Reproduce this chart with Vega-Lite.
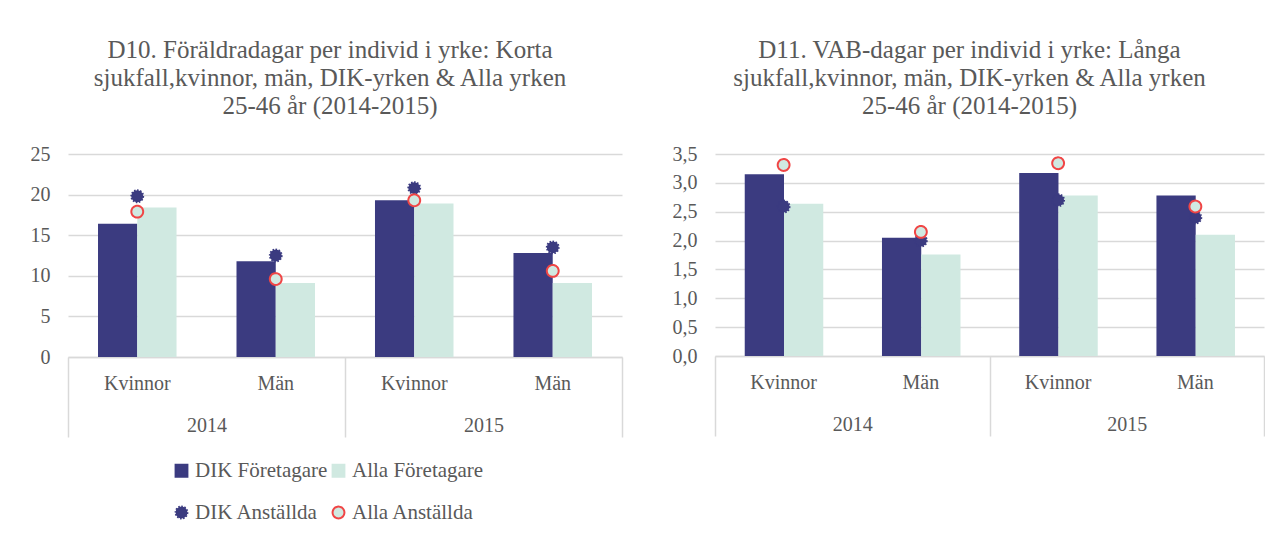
{
  "$schema": "https://vega.github.io/schema/vega-lite/v6.json",
  "background": "white",
  "padding": {"left": 30, "top": 38, "right": 0, "bottom": 0},
  "spacing": 93,
  "bounds": "flush",
  "datasets": {
    "d10": [
      {"year": "2014", "sex": "Kvinnor", "grp": "2014 Kvinnor", "series": "DIK Företagare", "value": 16.4},
      {"year": "2014", "sex": "Kvinnor", "grp": "2014 Kvinnor", "series": "Alla Företagare", "value": 18.4},
      {"year": "2014", "sex": "Kvinnor", "grp": "2014 Kvinnor", "series": "DIK Anställda", "value": 19.8},
      {"year": "2014", "sex": "Kvinnor", "grp": "2014 Kvinnor", "series": "Alla Anställda", "value": 17.9},
      {"year": "2014", "sex": "Män", "grp": "2014 Män", "series": "DIK Företagare", "value": 11.8},
      {"year": "2014", "sex": "Män", "grp": "2014 Män", "series": "Alla Företagare", "value": 9.1},
      {"year": "2014", "sex": "Män", "grp": "2014 Män", "series": "DIK Anställda", "value": 12.5},
      {"year": "2014", "sex": "Män", "grp": "2014 Män", "series": "Alla Anställda", "value": 9.6},
      {"year": "2015", "sex": "Kvinnor", "grp": "2015 Kvinnor", "series": "DIK Företagare", "value": 19.3},
      {"year": "2015", "sex": "Kvinnor", "grp": "2015 Kvinnor", "series": "Alla Företagare", "value": 18.9},
      {"year": "2015", "sex": "Kvinnor", "grp": "2015 Kvinnor", "series": "DIK Anställda", "value": 20.8},
      {"year": "2015", "sex": "Kvinnor", "grp": "2015 Kvinnor", "series": "Alla Anställda", "value": 19.3},
      {"year": "2015", "sex": "Män", "grp": "2015 Män", "series": "DIK Företagare", "value": 12.8},
      {"year": "2015", "sex": "Män", "grp": "2015 Män", "series": "Alla Företagare", "value": 9.1},
      {"year": "2015", "sex": "Män", "grp": "2015 Män", "series": "DIK Anställda", "value": 13.5},
      {"year": "2015", "sex": "Män", "grp": "2015 Män", "series": "Alla Anställda", "value": 10.6}
    ],
    "d11": [
      {"year": "2014", "sex": "Kvinnor", "grp": "2014 Kvinnor", "series": "DIK Företagare", "value": 3.15},
      {"year": "2014", "sex": "Kvinnor", "grp": "2014 Kvinnor", "series": "Alla Företagare", "value": 2.64},
      {"year": "2014", "sex": "Kvinnor", "grp": "2014 Kvinnor", "series": "DIK Anställda", "value": 2.59},
      {"year": "2014", "sex": "Kvinnor", "grp": "2014 Kvinnor", "series": "Alla Anställda", "value": 3.31},
      {"year": "2014", "sex": "Män", "grp": "2014 Män", "series": "DIK Företagare", "value": 2.05},
      {"year": "2014", "sex": "Män", "grp": "2014 Män", "series": "Alla Företagare", "value": 1.76},
      {"year": "2014", "sex": "Män", "grp": "2014 Män", "series": "DIK Anställda", "value": 2.0},
      {"year": "2014", "sex": "Män", "grp": "2014 Män", "series": "Alla Anställda", "value": 2.15},
      {"year": "2015", "sex": "Kvinnor", "grp": "2015 Kvinnor", "series": "DIK Företagare", "value": 3.17},
      {"year": "2015", "sex": "Kvinnor", "grp": "2015 Kvinnor", "series": "Alla Företagare", "value": 2.78},
      {"year": "2015", "sex": "Kvinnor", "grp": "2015 Kvinnor", "series": "DIK Anställda", "value": 2.70},
      {"year": "2015", "sex": "Kvinnor", "grp": "2015 Kvinnor", "series": "Alla Anställda", "value": 3.34},
      {"year": "2015", "sex": "Män", "grp": "2015 Män", "series": "DIK Företagare", "value": 2.78},
      {"year": "2015", "sex": "Män", "grp": "2015 Män", "series": "Alla Företagare", "value": 2.10},
      {"year": "2015", "sex": "Män", "grp": "2015 Män", "series": "DIK Anställda", "value": 2.40},
      {"year": "2015", "sex": "Män", "grp": "2015 Män", "series": "Alla Anställda", "value": 2.59}
    ]
  },
  "config": {
    "font": "Liberation Serif",
    "view": {"stroke": null},
    "axis": {"labelFont": "Liberation Serif", "labelFontSize": 20, "labelColor": "#595959", "title": null},
    "axisY": {"domain": false, "ticks": false, "gridColor": "#d9d9d9", "gridWidth": 1.5, "labelPadding": 18, "labelOverlap": false},
    "legend": {"labelFont": "Liberation Serif", "labelFontSize": 21, "labelColor": "#595959", "symbolStrokeWidth": 2},
    "title": {"font": "Liberation Serif", "fontSize": 25, "fontWeight": "normal", "color": "#595959", "lineHeight": 28, "anchor": "middle"}
  },
  "hconcat": [
    {
      "width": 554,
      "height": 203,
      "title": {"text": ["D10. Föräldradagar per individ i yrke: Korta", "sjukfall,kvinnor, män, DIK-yrken & Alla yrken", "25-46 år (2014-2015)"], "dx": -15, "offset": 25},
      "data": {"name": "d10"},
      "layer": [
        {
          "transform": [{"filter": "indexof(datum.series, 'Företagare') >= 0"}],
          "mark": {"type": "bar"},
          "encoding": {
            "x": {"field": "grp", "type": "nominal", "scale": {"domain": ["2014 Kvinnor", "2014 Män", "2015 Kvinnor", "2015 Män"], "paddingInner": 0.433, "paddingOuter": 0.2167},
                  "axis": {"labelExpr": "split(datum.label, ' ')[1]", "labelAngle": 0, "ticks": false, "domainColor": "#d9d9d9", "domainWidth": 1.5, "labelPadding": 16}},
            "xOffset": {"field": "series", "type": "nominal", "scale": {"domain": ["DIK Företagare", "Alla Företagare"], "paddingInner": 0, "paddingOuter": 0}},
            "y": {"field": "value", "type": "quantitative", "scale": {"domain": [0, 25], "nice": false},
                  "axis": {"values": [0, 5, 10, 15, 20, 25]}},
            "color": {"field": "series", "type": "nominal",
                      "scale": {"domain": ["DIK Företagare", "Alla Företagare", "DIK Anställda", "Alla Anställda"], "range": ["#3b3b80", "#d0e9e1", "#3b3b80", "#d0e9e1"]},
                      "legend": {"orient": "none", "legendX": 103, "legendY": 306, "columns": 2, "direction": "horizontal", "title": null, "rowPadding": 20, "columnPadding": 0, "labelOffset": 3}}
          }
        },
        {
          "transform": [{"filter": "indexof(datum.series, 'Anställda') >= 0"}],
          "mark": {"type": "point", "filled": true, "strokeWidth": 2, "opacity": 1},
          "encoding": {
            "x": {"field": "grp", "type": "nominal", "scale": {"domain": ["2014 Kvinnor", "2014 Män", "2015 Kvinnor", "2015 Män"], "paddingInner": 0.433, "paddingOuter": 0.2167}, "axis": null},
            "y": {"field": "value", "type": "quantitative", "axis": {"values": [0, 5, 10, 15, 20, 25]}},
            "color": {"field": "series", "type": "nominal"},
            "size": {"field": "series", "type": "nominal", "scale": {"domain": ["DIK Företagare", "Alla Företagare", "DIK Anställda", "Alla Anställda"], "range": [140, 140, 90, 150]}},
            "shape": {"field": "series", "type": "nominal", "scale": {"domain": ["DIK Företagare", "Alla Företagare", "DIK Anställda", "Alla Anställda"], "range": ["square", "square", "circle", "circle"]}},
            "stroke": {"field": "series", "type": "nominal", "scale": {"domain": ["DIK Företagare", "Alla Företagare", "DIK Anställda", "Alla Anställda"], "range": ["#3b3b80", "#d0e9e1", "#3b3b80", "#f04545"]}},
            "strokeDash": {"field": "series", "type": "nominal", "scale": {"domain": ["DIK Företagare", "Alla Företagare", "DIK Anställda", "Alla Anställda"], "range": [[1, 0], [1, 0], [1.5, 1.5], [1, 0]]}}
          }
        },
        {
          "mark": {"type": "point", "opacity": 0},
          "encoding": {
            "x": {"field": "year", "type": "nominal", "scale": {"paddingInner": 0, "paddingOuter": 0},
                  "axis": {"orient": "bottom", "tickBand": "extent", "tickSize": 80, "tickColor": "#d9d9d9", "tickWidth": 1.5, "domain": false, "labelPadding": -22, "labelAngle": 0}},
            "y": {"field": "value", "type": "quantitative", "axis": {"values": [0, 5, 10, 15, 20, 25]}}
          }
        }
      ],
      "resolve": {"scale": {"x": "independent"}, "axis": {"x": "independent"}}
    },
    {
      "width": 549,
      "height": 202,
      "title": {"text": ["D11. VAB-dagar per individ i yrke: Långa", "sjukfall,kvinnor, män, DIK-yrken & Alla yrken", "25-46 år (2014-2015)"], "dx": -20, "offset": 25},
      "data": {"name": "d11"},
      "layer": [
        {
          "transform": [{"filter": "indexof(datum.series, 'Företagare') >= 0"}],
          "mark": {"type": "bar"},
          "encoding": {
            "x": {"field": "grp", "type": "nominal", "scale": {"domain": ["2014 Kvinnor", "2014 Män", "2015 Kvinnor", "2015 Män"], "paddingInner": 0.433, "paddingOuter": 0.2167},
                  "axis": {"labelExpr": "split(datum.label, ' ')[1]", "labelAngle": 0, "ticks": false, "domainColor": "#d9d9d9", "domainWidth": 1.5, "labelPadding": 16}},
            "xOffset": {"field": "series", "type": "nominal", "scale": {"domain": ["DIK Företagare", "Alla Företagare"], "paddingInner": 0, "paddingOuter": 0}},
            "y": {"field": "value", "type": "quantitative", "scale": {"domain": [0, 3.5], "nice": false},
                  "axis": {"values": [0, 0.5, 1, 1.5, 2, 2.5, 3, 3.5], "labelExpr": "replace(format(datum.value, '.1f'), '.', ',')"}},
            "color": {"field": "series", "type": "nominal",
                      "scale": {"domain": ["DIK Företagare", "Alla Företagare", "DIK Anställda", "Alla Anställda"], "range": ["#3b3b80", "#d0e9e1", "#3b3b80", "#d0e9e1"]},
                      "legend": {"orient": "none", "legendX": 97, "legendY": 306, "columns": 2, "direction": "horizontal", "title": null, "rowPadding": 20, "columnPadding": 0, "labelOffset": 3}}
          }
        },
        {
          "transform": [{"filter": "indexof(datum.series, 'Anställda') >= 0"}],
          "mark": {"type": "point", "filled": true, "strokeWidth": 2, "opacity": 1},
          "encoding": {
            "x": {"field": "grp", "type": "nominal", "scale": {"domain": ["2014 Kvinnor", "2014 Män", "2015 Kvinnor", "2015 Män"], "paddingInner": 0.433, "paddingOuter": 0.2167}, "axis": null},
            "y": {"field": "value", "type": "quantitative", "axis": {"values": [0, 0.5, 1, 1.5, 2, 2.5, 3, 3.5], "labelExpr": "replace(format(datum.value, '.1f'), '.', ',')"}},
            "color": {"field": "series", "type": "nominal"},
            "size": {"field": "series", "type": "nominal", "scale": {"domain": ["DIK Företagare", "Alla Företagare", "DIK Anställda", "Alla Anställda"], "range": [140, 140, 110, 150]}},
            "shape": {"field": "series", "type": "nominal", "scale": {"domain": ["DIK Företagare", "Alla Företagare", "DIK Anställda", "Alla Anställda"], "range": ["square", "square", "circle", "circle"]}},
            "stroke": {"field": "series", "type": "nominal", "scale": {"domain": ["DIK Företagare", "Alla Företagare", "DIK Anställda", "Alla Anställda"], "range": ["#3b3b80", "#d0e9e1", "#ffffff", "#f04545"]}},
            "strokeDash": {"field": "series", "type": "nominal", "scale": {"domain": ["DIK Företagare", "Alla Företagare", "DIK Anställda", "Alla Anställda"], "range": [[1, 0], [1, 0], [1.5, 1.5], [1, 0]]}}
          }
        },
        {
          "mark": {"type": "point", "opacity": 0},
          "encoding": {
            "x": {"field": "year", "type": "nominal", "scale": {"paddingInner": 0, "paddingOuter": 0},
                  "axis": {"orient": "bottom", "tickBand": "extent", "tickSize": 80, "tickColor": "#d9d9d9", "tickWidth": 1.5, "domain": false, "labelPadding": -22, "labelAngle": 0}},
            "y": {"field": "value", "type": "quantitative", "axis": {"values": [0, 0.5, 1, 1.5, 2, 2.5, 3, 3.5], "labelExpr": "replace(format(datum.value, '.1f'), '.', ',')"}}
          }
        }
      ],
      "resolve": {"scale": {"x": "independent"}, "axis": {"x": "independent"}}
    }
  ]
}
